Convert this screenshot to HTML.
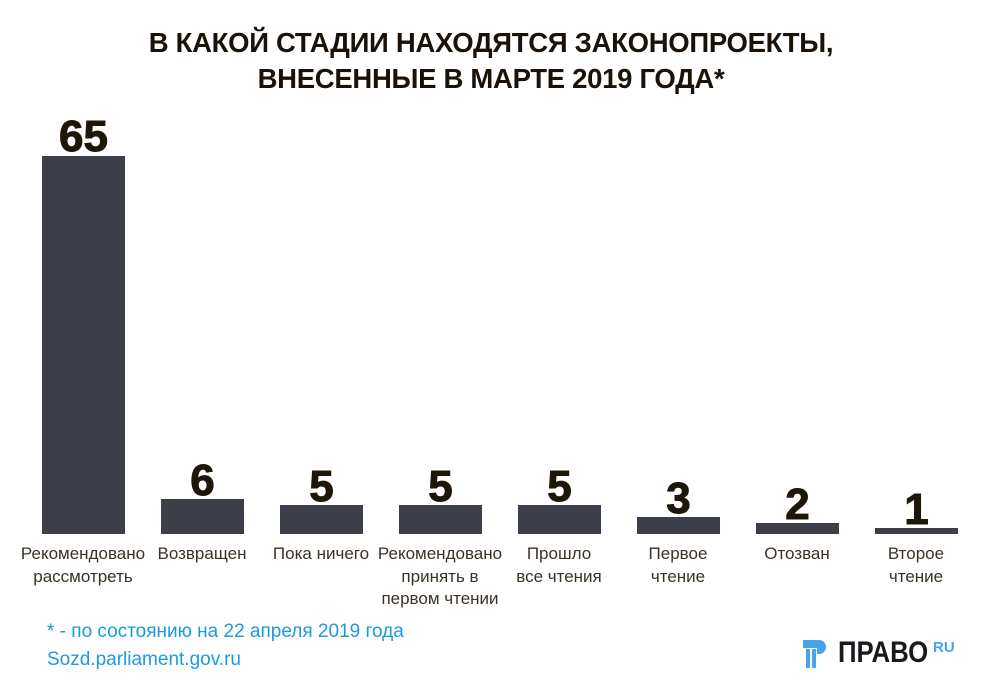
<!DOCTYPE html>
<html><head><meta charset="utf-8"><style>
body{margin:0;width:1000px;height:692px;background:#fff;position:relative;overflow:hidden;font-family:"Liberation Sans",sans-serif}
.t{position:absolute;left:0;width:982px;text-align:center;font-weight:bold;font-size:27.5px;color:#1a1208;letter-spacing:-0.3px}
.bar{position:absolute;width:83px;background:#3c3f49}
.n{position:absolute;width:83px;text-align:center;font-weight:900;font-size:44px;color:#1e1608;line-height:42px;-webkit-text-stroke:1px #1e1608}
.l{position:absolute;width:150px;text-align:center;font-size:17px;line-height:22.5px;color:#3a3226}
.f{position:absolute;left:47px;font-size:19px;color:#1a9be0}
</style></head><body>
<div class="t" style="top:27px">В КАКОЙ СТАДИИ НАХОДЯТСЯ ЗАКОНОПРОЕКТЫ,</div>
<div class="t" style="top:63px">ВНЕСЕННЫЕ В МАРТЕ 2019 ГОДА*</div>

<div class="bar" style="left:42px;top:156px;height:378px"></div><div class="n" style="left:42px;top:116px">65</div>
<div class="bar" style="left:161px;top:499px;height:35px"></div><div class="n" style="left:161px;top:460px">6</div>
<div class="bar" style="left:280px;top:505px;height:29px"></div><div class="n" style="left:280px;top:466px">5</div>
<div class="bar" style="left:399px;top:505px;height:29px"></div><div class="n" style="left:399px;top:466px">5</div>
<div class="bar" style="left:518px;top:505px;height:29px"></div><div class="n" style="left:518px;top:466px">5</div>
<div class="bar" style="left:637px;top:517px;height:17px"></div><div class="n" style="left:637px;top:478px">3</div>
<div class="bar" style="left:756px;top:523px;height:11px"></div><div class="n" style="left:756px;top:484px">2</div>
<div class="bar" style="left:875px;top:528px;height:6px"></div><div class="n" style="left:875px;top:489px">1</div>

<div class="l" style="left:8px;top:543px">Рекомендовано<br>рассмотреть</div>
<div class="l" style="left:127px;top:543px">Возвращен</div>
<div class="l" style="left:246px;top:543px">Пока ничего</div>
<div class="l" style="left:365px;top:543px">Рекомендовано<br>принять в<br>первом чтении</div>
<div class="l" style="left:484px;top:543px">Прошло<br>все чтения</div>
<div class="l" style="left:603px;top:543px">Первое<br>чтение</div>
<div class="l" style="left:722px;top:543px">Отозван</div>
<div class="l" style="left:841px;top:543px">Второе<br>чтение</div>

<div class="f" style="top:621px">* - по состоянию на 22 апреля 2019 года</div>
<div class="f" style="top:649px">Sozd.parliament.gov.ru</div>

<svg style="position:absolute;left:803px;top:640px" width="24" height="28" viewBox="0 0 24 28">
<path d="M0 0H16a7 7 0 0 1 0 14H14V8H0Z" fill="#4aa3e8"/>
<rect x="3" y="9" width="4" height="19" fill="#4aa3e8"/><rect x="9" y="9" width="4" height="19" fill="#4aa3e8"/>
</svg>
<div style="position:absolute;left:838px;top:636px;font-weight:bold;font-size:30px;color:#1a1a1e;transform:scaleX(0.86);transform-origin:left top">ПРАВО</div>
<div style="position:absolute;left:933px;top:639px;font-weight:bold;font-size:15px;color:#4aa3e8">RU</div>
</body></html>
